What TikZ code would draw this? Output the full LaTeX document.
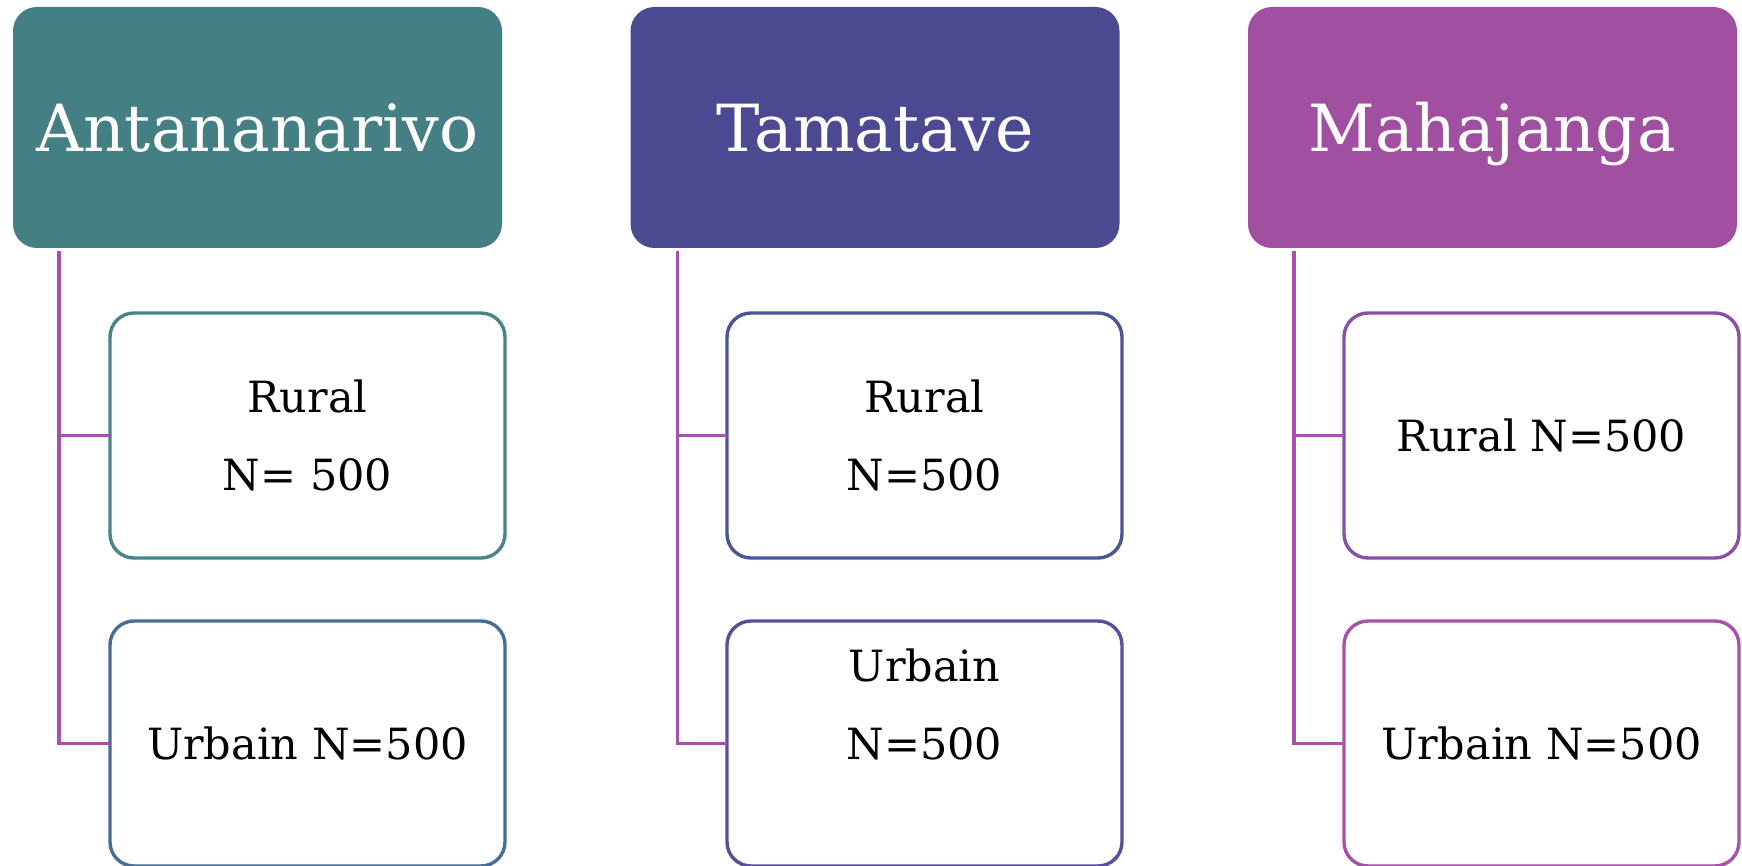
\documentclass[tikz,border=0pt]{standalone}
\usepackage{fontspec}
\setmainfont{DejaVu Serif}
\usetikzlibrary{positioning}
\definecolor{headA}{RGB}{68,127,132}
\definecolor{headB}{RGB}{75,73,146}
\definecolor{headC}{RGB}{161,79,160}
\definecolor{linkcol}{RGB}{166,82,170}
\definecolor{ruralA}{RGB}{72,133,138}
\definecolor{urbainA}{RGB}{72,108,148}
\definecolor{ruralB}{RGB}{76,84,153}
\definecolor{urbainB}{RGB}{92,76,158}
\definecolor{ruralC}{RGB}{135,82,166}
\definecolor{urbainC}{RGB}{166,82,170}

\begin{document}
\begin{tikzpicture}[x=0.5pt,y=-0.5pt,inner sep=0pt,outer sep=0pt,
  head/.style={fill=#1,text=white,rounded corners=12pt,minimum width=244.5pt,minimum height=120.5pt,text height=24pt,text depth=0pt,font=\fontsize{32.5}{39}\selectfont},
  zone/.style={draw=#1,fill=white,line width=1.7pt,rounded corners=12pt,minimum width=197.5pt,minimum height=122.5pt,align=center,font=\fontsize{21.5}{39}\selectfont},
  link/.style={draw=linkcol,line width=1.8pt}]
\useasboundingbox (0,0) rectangle (1742,866);
\node[head=headA] (hA) at (257.500,127.500) {Antananarivo};
\node[head=headB] (hB) at (875.000,127.500) {Tamatave};
\node[head=headC] (hC) at (1492.500,127.500) {Mahajanga};
\coordinate (tA) at ([xshift=23pt,yshift=-1.5pt]hA.south west);
\coordinate (tB) at ([xshift=23.5pt,yshift=-1.5pt]hB.south west);
\coordinate (tC) at ([xshift=23pt,yshift=-1.5pt]hC.south west);
\node[zone=ruralA] (rA) at (307.500,435.500) {Rural\\N= 500};
\node[zone=urbainA] (uA) at (307.500,743.500) {Urbain N=500};
\node[zone=ruralB] (rB) at (924.500,435.500) {Rural\\N=500};
\node[zone=urbainB] (uB) at (924.500,743.500) {Urbain\\N=500\\~};
\node[zone=ruralC] (rC) at (1541.500,435.500) {Rural N=500};
\node[zone=urbainC] (uC) at (1541.500,743.500) {Urbain N=500};
\draw[link] (tA) |- (uA.west);
\draw[link] (rA.west) -- (rA.west -| tA);
\draw[link] (tB) |- (uB.west);
\draw[link] (rB.west) -- (rB.west -| tB);
\draw[link] (tC) |- (uC.west);
\draw[link] (rC.west) -- (rC.west -| tC);
\end{tikzpicture}
\end{document}
